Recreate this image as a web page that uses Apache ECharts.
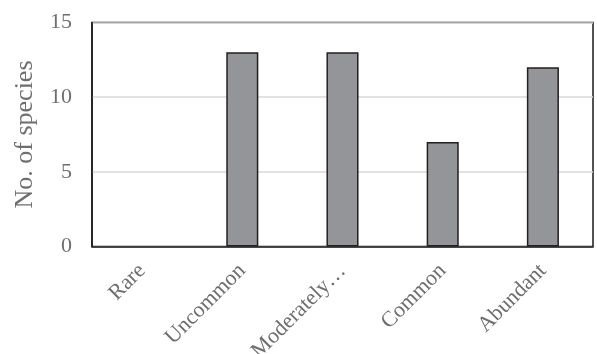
<!DOCTYPE html>
<html>
<head>
<meta charset="utf-8">
<script src="https://cdn.jsdelivr.net/npm/echarts@6/dist/echarts.min.js"></script>
<style>
  html, body { margin: 0; padding: 0; background: #fff; }
  #chart { width: 597px; height: 354px; }
</style>
</head>
<body>
<div id="chart"></div>
<script>
// Abundance classes and the number of species in each
const categories = ['Rare', 'Uncommon', 'Moderately…', 'Common', 'Abundant'];
const speciesCounts = [0, 13, 13, 7, 12];
const yTicks = { min: 0, max: 15, interval: 5 };
const yTitle = 'No. of species';

const chart = echarts.init(document.getElementById('chart'), null, { renderer: 'canvas' });
const serif = '"Liberation Serif", "DejaVu Serif", serif';

// empty classes get no outline so nothing is drawn on the baseline
const barData = speciesCounts.map(v => v === 0 ? { value: v, itemStyle: { borderWidth: 0 } } : v);

chart.setOption({
  animation: false,
  backgroundColor: '#ffffff',
  grid: {
    left: 92, top: 22.5, right: 4, bottom: 107.5,
    containLabel: false, outerBoundsMode: 'none',
    show: true, borderColor: '#1a1a1a', borderWidth: 1.5, backgroundColor: 'transparent'
  },
  xAxis: {
    type: 'category',
    data: categories,
    axisLine: { show: true, lineStyle: { color: '#1a1a1a', width: 1.5 } },
    axisTick: { show: false },
    axisLabel: {
      rotate: 45, interval: 0, margin: 21,
      color: '#6e6e6e', fontFamily: serif, fontSize: 22
    },
    splitLine: { show: false }
  },
  yAxis: {
    type: 'value',
    min: yTicks.min, max: yTicks.max, interval: yTicks.interval,
    name: yTitle,
    nameLocation: 'middle',
    nameGap: 54,
    nameTextStyle: { color: '#6e6e6e', fontFamily: serif, fontSize: 26 },
    axisLine: { show: true, lineStyle: { color: '#1a1a1a', width: 1.5 } },
    axisTick: { show: false },
    axisLabel: { color: '#6e6e6e', fontFamily: serif, fontSize: 22, margin: 20 },
    splitLine: { show: true, lineStyle: { color: '#d9d9d9', width: 1.5 } }
  },
  series: [{
    type: 'bar',
    data: barData,
    barWidth: '32%',
    itemStyle: { color: '#939598', borderColor: '#231f20', borderWidth: 1.5 }
  }]
});
</script>
</body>
</html>
